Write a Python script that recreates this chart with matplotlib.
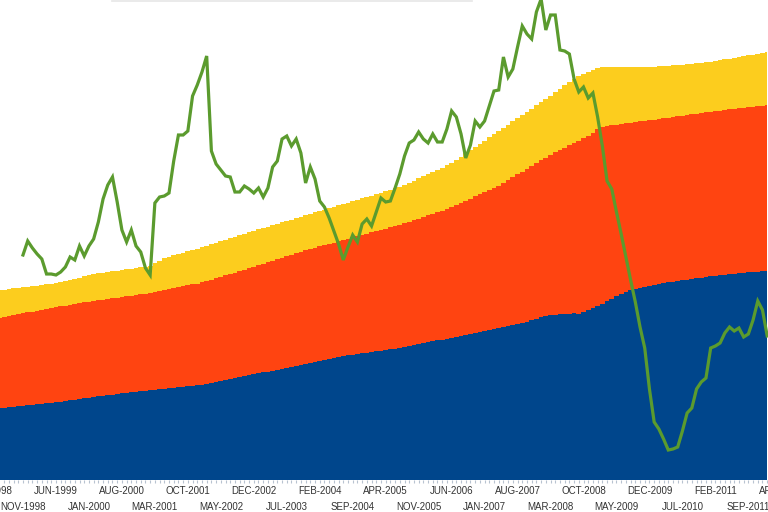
import numpy as np
import matplotlib
matplotlib.use("Agg")
import matplotlib.pyplot as plt
from matplotlib.lines import Line2D

plt.rcParams["font.family"] = ["Liberation Sans", "DejaVu Sans"]

# monthly data, month 0 = NOV-1998
area_start = -5  # first month of the stacked areas

blue_level = [
    72, 72, 73, 73, 74,
    74, 75, 75, 76, 76, 77, 77, 78, 78, 79,
    80, 80, 81, 82, 82, 83, 84, 84, 85, 85,
    86, 87, 87, 88, 88, 89, 89, 90, 90, 91,
    91, 92, 92, 93, 93, 94, 94, 95, 95, 96,
    97, 98, 99, 100, 101, 102, 103, 104, 105, 106,
    107, 108, 108, 109, 110, 111, 112, 113, 114, 115,
    116, 117, 118, 119, 120, 121, 122, 123, 124, 125,
    125, 126, 127, 127, 128, 129, 129, 130, 131, 131,
    132, 133, 134, 135, 136, 137, 138, 139, 140, 140,
    141, 142, 143, 144, 145, 146, 147, 148, 149, 150,
    151, 152, 153, 154, 155, 156, 157, 158, 160, 161,
    163, 164, 165, 165, 166, 166, 166, 167, 166, 168,
    170, 172, 174, 176, 179, 181, 184, 186, 188, 190,
    191, 192, 193, 194, 195, 196, 197, 198, 198, 199,
    200, 200, 201, 202, 202, 203, 204, 204, 205, 205,
    206, 206, 207, 207, 208, 208, 208, 209, 209,
]

red_level = [
    162, 163, 164, 165, 166,
    167, 168, 168, 169, 170, 171, 172, 173, 174, 174,
    175, 176, 177, 178, 178, 179, 180, 180, 181, 182,
    182, 183, 184, 184, 185, 186, 186, 187, 188, 189,
    190, 191, 192, 193, 194, 195, 196, 196, 198, 199,
    200, 202, 203, 205, 206, 207, 209, 210, 212, 213,
    215, 216, 218, 219, 221, 222, 224, 225, 227, 228,
    230, 231, 232, 234, 235, 236, 237, 239, 240, 241,
    243, 244, 245, 246, 248, 249, 250, 251, 253, 254,
    255, 257, 258, 260, 261, 263, 265, 266, 268, 269,
    271, 273, 275, 277, 279, 281, 284, 286, 288, 290,
    292, 294, 297, 300, 303, 306, 308, 311, 314, 317,
    320, 322, 325, 328, 330, 332, 335, 337, 339, 342,
    344, 347, 351, 353, 354, 355, 355, 356, 357, 357,
    358, 359, 359, 360, 360, 361, 362, 362, 363, 364,
    364, 365, 366, 366, 367, 368, 368, 369, 369, 370,
    371, 371, 372, 372, 373, 373, 374, 374, 375,
]

yellow_level = [
    190, 190, 191, 192, 192,
    193, 193, 194, 194, 195, 196, 196, 197, 198, 199,
    200, 201, 202, 204, 205, 206, 207, 207, 208, 209,
    209, 210, 211, 211, 212, 213, 213, 214, 217, 219,
    222, 223, 225, 226, 227, 229, 230, 231, 233, 234,
    236, 237, 239, 240, 242, 243, 245, 246, 248, 249,
    251, 252, 253, 255, 256, 258, 259, 260, 262, 263,
    265, 266, 268, 269, 270, 272, 273, 275, 276, 277,
    279, 280, 282, 283, 284, 286, 287, 289, 290, 292,
    293, 295, 297, 299, 302, 304, 306, 308, 310, 312,
    315, 317, 320, 323, 327, 330, 333, 336, 339, 343,
    346, 349, 352, 355, 359, 362, 365, 368, 371, 375,
    378, 381, 384, 388, 391, 395, 398, 401, 404, 406,
    408, 410, 412, 413, 413, 413, 413, 413, 413, 413,
    413, 413, 413, 413, 413, 414, 414, 414, 415, 415,
    415, 416, 416, 417, 417, 418, 418, 419, 420, 421,
    421, 422, 423, 424, 425, 425, 426, 427, 428,
]

green_line = [
    225, 239, 232, 226, 221, 206, 206, 205, 208, 213,
    223, 220, 234, 224, 234, 241, 258, 281, 295, 303,
    278, 250, 238, 250, 234, 228, 212, 205, 277, 283,
    284, 287, 319, 345, 345, 349, 384, 395, 408, 424,
    329, 316, 310, 304, 303, 288, 288, 294, 291, 287,
    292, 283, 292, 313, 319, 341, 344, 334, 341, 327,
    297, 313, 301, 279, 273, 262, 249, 236, 220, 233,
    245, 238, 256, 261, 254, 268, 282, 278, 279, 292,
    306, 324, 337, 340, 348, 341, 337, 346, 338, 338,
    351, 369, 363, 346, 322, 335, 359, 353, 359, 374,
    389, 390, 423, 403, 411, 433, 454, 446, 441, 468,
    481, 450, 465, 465, 430, 429, 426, 401, 388, 393,
    382, 387, 363, 334, 299, 291, 268, 246, 223, 200,
    178, 153, 132, 91, 58, 51, 41, 30, 31, 33,
    49, 67, 72, 91, 98, 102, 132, 134, 137, 147,
    153, 149, 152, 143, 146, 160, 179, 170, 144,
]

tick_labels = [
    "APR-1998", "NOV-1998", "JUN-1999", "JAN-2000", "AUG-2000", "MAR-2001",
    "OCT-2001", "MAY-2002", "DEC-2002", "JUL-2003", "FEB-2004", "SEP-2004",
    "APR-2005", "NOV-2005", "JUN-2006", "JAN-2007", "AUG-2007", "MAR-2008",
    "OCT-2008", "MAY-2009", "DEC-2009", "JUL-2010", "FEB-2011", "SEP-2011",
    "APR-2012",
]

months = np.arange(area_start, area_start + len(blue_level))
line_months = np.arange(len(green_line))

fig = plt.figure(figsize=(7.68, 5.12), dpi=100)
ax = fig.add_axes([0, 32 / 512, 1, 480 / 512])

# layers drawn from the top down so there are no seams between them
ax.fill_between(months, 0, yellow_level, step="mid", color="#fccd1e", lw=0)
ax.fill_between(months, 0, red_level, step="mid", color="#ff4411", lw=0)
ax.fill_between(months, 0, blue_level, step="mid", color="#00468c", lw=0)

ax.plot(line_months, green_line, color="#5b9b2e", lw=2.3, solid_joinstyle="miter")

# labels alternate between two rows: top row on the main axis, bottom row on a second one
ticks = np.arange(len(tick_labels)) * 7 - 7
ax.set_xticks(ticks[2:-1:2], tick_labels[2:-1:2])
ax.set_xticks(np.arange(-6, 160), minor=True)
ax.tick_params(axis="x", which="both", length=2.5, width=0.8, color="#b8c3d0", pad=2,
               labelsize=7, labelcolor="#333333")
ax.set_yticks([])
for s in ax.spines.values():
    s.set_visible(False)

ax2 = ax.secondary_xaxis("bottom")
ax2.set_xticks(ticks[1::2], tick_labels[1::2])
ax2.tick_params(axis="x", length=0, pad=16, labelsize=7, labelcolor="#333333")
ax2.spines["bottom"].set_visible(False)

# first and last top-row labels sit past the edges and are cut by the figure
for t, lab in [(ticks[0], tick_labels[0]), (ticks[-1], tick_labels[-1])]:
    ax.annotate(lab, xy=(t, 0), xycoords=("data", "axes fraction"), xytext=(0, -4.5),
                textcoords="offset points", ha="center", va="top", fontsize=7,
                color="#333333", annotation_clip=False)

ax.set_xlim(-4.88, 158.17)
ax.set_ylim(0, 480)

fig.add_artist(Line2D([112 / 768, 472 / 768], [1 - 1 / 512] * 2, color="#e6e6e6", lw=1.2))

fig.savefig("out.png", dpi=100)
